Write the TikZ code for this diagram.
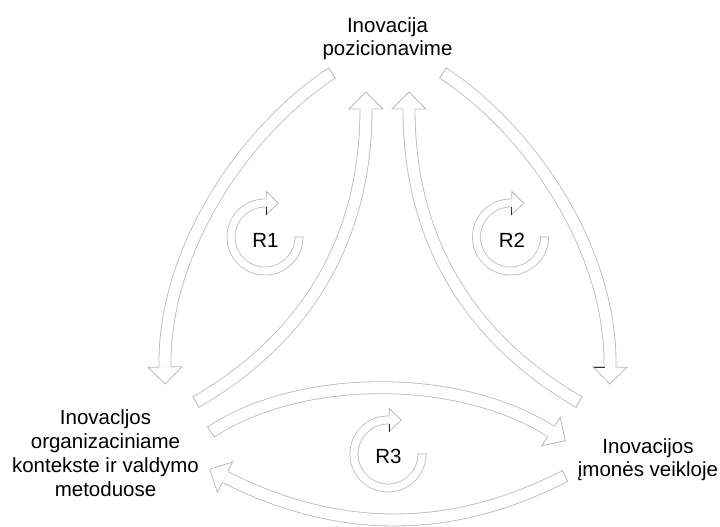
\documentclass[tikz,border=0pt]{standalone}
\usepackage{fontspec}
\setmainfont{Liberation Sans}
\usetikzlibrary{calc}
\definecolor{rimgray}{RGB}{185,185,185}
\definecolor{tickgray}{RGB}{50,50,50}
% head: #1 point before the end, #2 end, #3 half shaft, #4 half head, #5 head length
\newcommand{\hollowhead}[5]{%
  \draw[rim] let \p1=($(#2)-(#1)$), \n1={atan2(\y1,\x1)} in
    ($(#2)+(\n1+90:#3)$) -- ($(#2)+(\n1+90:#4)$) -- ($(#2)+(\n1:#5)$)
    -- ($(#2)+(\n1-90:#4)$) -- ($(#2)+(\n1-90:#3)$);}
% closed tail: #1 start, #2 point after the start, #3 half shaft
\newcommand{\hollowtail}[3]{%
  \draw[rim] let \p1=($(#2)-(#1)$), \n1={atan2(\y1,\x1)} in
    ($(#1)+(\n1+90:#3)$) -- ($(#1)+(\n1-90:#3)$);}
\tikzset{
  rim/.style={rimgray,line width=0.8pt,line join=miter},
  flow/.style={draw=rimgray,line width=12.8pt,postaction={draw=white,line width=11.2pt}},
  loopring/.style={draw=rimgray,line width=8.8pt,postaction={draw=white,line width=7.2pt}},
  txt/.style={align=center,inner sep=0pt},
  tick/.style={tickgray,line width=0.9pt}
}
\begin{document}
\begin{tikzpicture}[x=1pt,y=-1pt,font=\fontsize{20.5}{23}\selectfont]
\useasboundingbox (0,0) rectangle (720,527);
\node[txt] (pos) at (387.5,38.6) {Inovacija\\pozicionavime};
\node[txt,font=\fontsize{20.5}{24.2}\selectfont] (org) at (105.5,453) {Inovacljos\\organizaciniame\\kontekste ir valdymo\\metoduose};
\node[txt] (firm) at (648,459.6) {Inovacijos\\įmonės veikloje};
\node[txt] (r1) at (265.5,240) {R1};
\node[txt] (r2) at (512,240) {R2};
\node[txt] (r3) at (388.5,456) {R3};
% arrow ends
\coordinate (posL) at (332,73);  \coordinate (orgT) at (165,367);
\coordinate (orgR) at (196,402); \coordinate (posB) at (366,109);
\coordinate (firmL) at (579,402); \coordinate (posC) at (409,109);
\coordinate (posR) at (443,73);  \coordinate (firmT) at (610,367);
\coordinate (orgE) at (211,432); \coordinate (firmW) at (551,431.5);
\coordinate (firmS) at (565,476); \coordinate (orgS) at (225,477);
\draw[flow] (posL) .. controls (245,130) and (163,250) .. (orgT);
\draw[flow] (orgR) .. controls (286,350) and (366,260) .. (posB);
\draw[flow] (firmL) .. controls (489,350) and (409,260) .. (posC);
\draw[flow] (posR) .. controls (530,130) and (612,250) .. (firmT);
\draw[flow] (orgE) .. controls (300,373) and (460,373) .. (firmW);
\draw[flow] (firmS) .. controls (451,534.5) and (339,534.5) .. (orgS);
\foreach \s/\c/\d/\e in {posL/{245,130}/{163,250}/orgT, orgR/{286,350}/{366,260}/posB,
    firmL/{489,350}/{409,260}/posC, posR/{530,130}/{612,250}/firmT,
    orgE/{300,373}/{460,373}/firmW, firmS/{451,534.5}/{339,534.5}/orgS}{
  \hollowtail{\s}{\c}{6.4pt}
  \hollowhead{\d}{\e}{6.4pt}{17pt}{17pt}
}
% loops
\foreach \r/\dx/\dy in {r1/33.5/-3, r2/32.5/-3, r3/33.5/-2}{
  \draw[loopring] (\r.center) ++(\dx,\dy) coordinate (\r s)
    arc[start angle=0,end angle=3,radius=34] coordinate (\r t)
    arc[start angle=3,end angle=270,radius=34] coordinate (\r p)
    arc[start angle=270,end angle=272,radius=34] coordinate (\r e);
  \hollowtail{\r s}{\r t}{4.4pt}
  \hollowhead{\r p}{\r e}{4.4pt}{11.7pt}{12pt}
}
\draw[tick] (266,207)--(266,215);
\draw[tick] (511.5,207)--(511.5,215);
\draw[tick] (389,424)--(389,432);
\draw[tick] (594,367.5)--(604.5,367.5);
\end{tikzpicture}
\end{document}
